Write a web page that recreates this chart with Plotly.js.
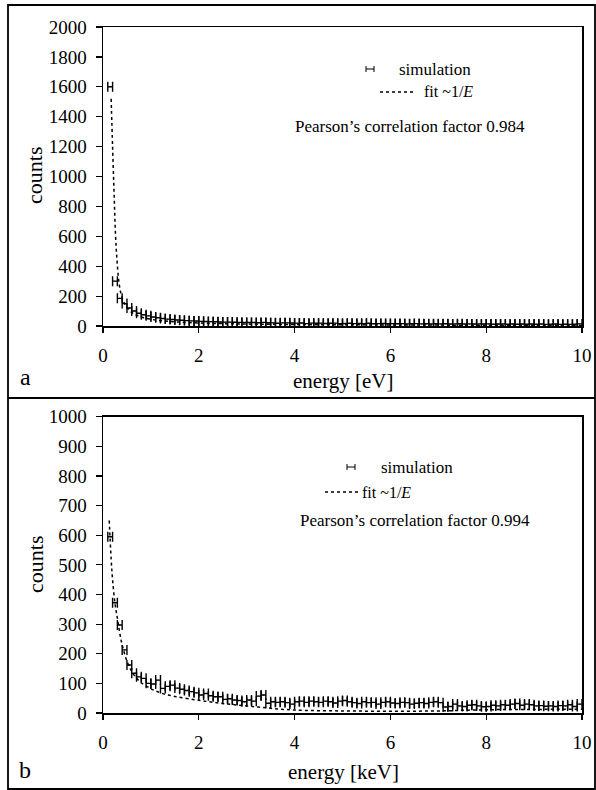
<!DOCTYPE html>
<html>
<head>
<meta charset="utf-8">
<script src="https://cdn.plot.ly/plotly-3.0.1.min.js"></script>
<style>html,body{margin:0;padding:0;background:#fff;}#chart{width:596px;height:790px;}</style>
</head>
<body>
<div id="chart"></div>
<script>
// bin centres (energy), shared by both panels
const energyBins = [0.15,0.25,0.35,0.45,0.55,0.65,0.75,0.85,0.95,1.05,1.15,1.25,1.35,1.45,1.55,1.65,1.75,1.85,1.95,2.05,2.15,2.25,2.35,2.45,2.55,2.65,2.75,2.85,2.95,3.05,3.15,3.25,3.35,3.45,3.55,3.65,3.75,3.85,3.95,4.05,4.15,4.25,4.35,4.45,4.55,4.65,4.75,4.85,4.95,5.05,5.15,5.25,5.35,5.45,5.55,5.65,5.75,5.85,5.95,6.05,6.15,6.25,6.35,6.45,6.55,6.65,6.75,6.85,6.95,7.05,7.15,7.25,7.35,7.45,7.55,7.65,7.75,7.85,7.95,8.05,8.15,8.25,8.35,8.45,8.55,8.65,8.75,8.85,8.95,9.05,9.15,9.25,9.35,9.45,9.55,9.65,9.75,9.85,9.95];

// panel a: simulation counts (energy in eV)
const simA = [1600,300,185,150,120,100,85,75,68,60,55,50,46,43,40,38,36,34,33,31,30,29,28,27,26,26,25,24,24,23,23,22,24,22,21,18,21,21,20,19,20,16,19,18,19,17,18,19,16,17,18,16,17,16,18,15,16,17,15,16,15,16,14,15,16,14,15,14,15,14,15,13,14,15,13,14,13,14,13,14,12,13,14,12,13,12,13,12,13,12,13,11,12,13,11,12,11,12,14];
// panel a: fit ~1/E (dotted)
const fitAx = [0.17,0.2,0.23,0.26,0.29,0.33,0.38,0.45,0.55,0.65,0.8,1.0,1.3,1.6,2.0,2.5,3.0,4.0,5.0,6.0,7.0,8.0,9.0,10.0];
const fitAy = [1520,1200,900,620,450,300,210,150,105,80,60,45,33,26,20,16,13,10,8,7,6,5,5,4];

// panel b: simulation counts (energy in keV)
const simB = [595,372,297,213,162,134,122,117,100,98,111,83,90,94,84,80,76,72,68,61,66,58,55,55,46,48,44,42,38,44,40,57,61,33,38,36,38,35,30,38,40,36,40,38,36,40,38,34,40,42,38,35,32,38,35,36,30,36,38,34,32,36,35,30,33,35,32,36,38,35,20,22,30,24,22,26,28,24,21,22,26,24,28,26,30,32,26,30,28,24,25,23,24,22,25,24,28,22,30];
// panel b: fit ~1/E (dotted)
const fitBx = [0.13,0.17,0.2,0.25,0.3,0.35,0.4,0.5,0.6,0.7,0.8,1.0,1.2,1.5,2.0,2.5,3.0,3.5,4.0,5.0,6.0,7.0,8.0,9.0,10.0];
const fitBy = [650,520,450,370,320,270,230,175,140,118,102,82,68,56,43,32,24,16,10,7,6,7,11,12,13];

const xTicks = [0,2,4,6,8,10];
const legendSim = "simulation";
const legendFit = "fit ~1/<i>E</i>";
const pearsonA = "Pearson’s correlation factor 0.984";
const pearsonB = "Pearson’s correlation factor 0.994";

const W = 596, H = 790;
const px = v => v / W;
const py = v => 1 - v / H;
const FONT = "Liberation Serif, Times New Roman, DejaVu Serif, serif";

function simTrace(y, xa, ya) {
  return {x: energyBins, y: y, xaxis: xa, yaxis: ya, type: "scatter", mode: "markers",
    marker: {size: 1, color: "#000"}, cliponaxis: false, hoverinfo: "skip",
    error_x: {type: "constant", value: 0.05, width: 5, thickness: 1.4, color: "#000"}};
}
function fitTrace(x, y, xa, ya) {
  return {x: x, y: y, xaxis: xa, yaxis: ya, type: "scatter", mode: "lines",
    line: {color: "#000", width: 1.5, dash: "dot", shape: "spline"}, hoverinfo: "skip"};
}
const data = [
  fitTrace(fitAx, fitAy, "x", "y"),
  simTrace(simA, "x", "y"),
  fitTrace(fitBx, fitBy, "x2", "y2"),
  simTrace(simB, "x2", "y2")
];

const axisCommon = {showgrid: false, zeroline: false, linecolor: "#000", linewidth: 1.5,
  mirror: true, ticks: "outside", tickcolor: "#000", tickwidth: 1.2,
  tickfont: {family: FONT, size: 19, color: "#000"}};
const xDom = [px(103), px(582)];

function legendShapes(symX, symY, dotX0, dotX1, dotY) {
  const xref = "paper", yref = "paper", l = {color: "#000", width: 1};
  return [
    {type: "line", xref, yref, x0: px(symX - 4), x1: px(symX + 4), y0: py(symY), y1: py(symY), line: l},
    {type: "line", xref, yref, x0: px(symX - 4), x1: px(symX - 4), y0: py(symY - 3), y1: py(symY + 3), line: l},
    {type: "line", xref, yref, x0: px(symX + 4), x1: px(symX + 4), y0: py(symY - 3), y1: py(symY + 3), line: l},
    {type: "line", xref, yref, x0: px(dotX0), x1: px(dotX1), y0: py(dotY), y1: py(dotY), line: {color: "#000", width: 1.3, dash: "dot"}}
  ];
}
function txt(text, x, y, size, extra) {
  return Object.assign({text: text, xref: "paper", yref: "paper", x: px(x), y: py(y),
    xanchor: "left", yanchor: "middle", showarrow: false,
    font: {family: FONT, size: size, color: "#000"}}, extra || {});
}

const layout = {
  width: W, height: H, margin: {l: 0, r: 0, t: 0, b: 0},
  paper_bgcolor: "#fff", plot_bgcolor: "#fff", showlegend: false,
  font: {family: FONT, color: "#000"},
  xaxis: Object.assign({}, axisCommon, {domain: xDom, anchor: "y", range: [0, 10], tickvals: xTicks, ticklen: 5, ticklabelstandoff: 7}),
  yaxis: Object.assign({}, axisCommon, {domain: [py(326), py(27)], anchor: "x", range: [0, 2000], dtick: 200, ticklen: 6, ticklabelstandoff: 5}),
  xaxis2: Object.assign({}, axisCommon, {domain: xDom, anchor: "y2", range: [0, 10], tickvals: xTicks, ticklen: 5, ticklabelstandoff: 7}),
  yaxis2: Object.assign({}, axisCommon, {domain: [py(713), py(416.7)], anchor: "x2", range: [0, 1000], dtick: 100, ticklen: 6, ticklabelstandoff: 5}),
  shapes: [
    {type: "rect", xref: "paper", yref: "paper", x0: px(8), x1: px(595), y0: py(789), y1: py(5), line: {color: "#000", width: 1.8}},
    {type: "line", xref: "paper", yref: "paper", x0: px(8), x1: px(595), y0: py(398), y1: py(398), line: {color: "#000", width: 1.8}}
  ].concat(legendShapes(370, 69, 380, 415, 92)).concat(legendShapes(351, 467, 325, 358, 492)),
  annotations: [
    txt(legendSim, 397, 69, 17),
    txt(legendFit, 422, 92, 16),
    txt(pearsonA, 293, 127, 17),
    txt(legendSim, 379, 467, 17),
    txt(legendFit, 360, 492, 16),
    txt(pearsonB, 298, 520, 17),
    txt("counts", 35, 176, 22, {xanchor: "center", textangle: -90}),
    txt("counts", 35, 565, 22, {xanchor: "center", textangle: -90}),
    txt("energy [eV]", 343, 381, 21, {xanchor: "center"}),
    txt("energy [keV]", 343, 772, 21, {xanchor: "center"}),
    txt("a", 25, 377, 24, {xanchor: "center"}),
    txt("b", 25, 770, 24, {xanchor: "center"})
  ]
};

Plotly.newPlot("chart", data, layout, {staticPlot: true, displayModeBar: false});
</script>
</body>
</html>
